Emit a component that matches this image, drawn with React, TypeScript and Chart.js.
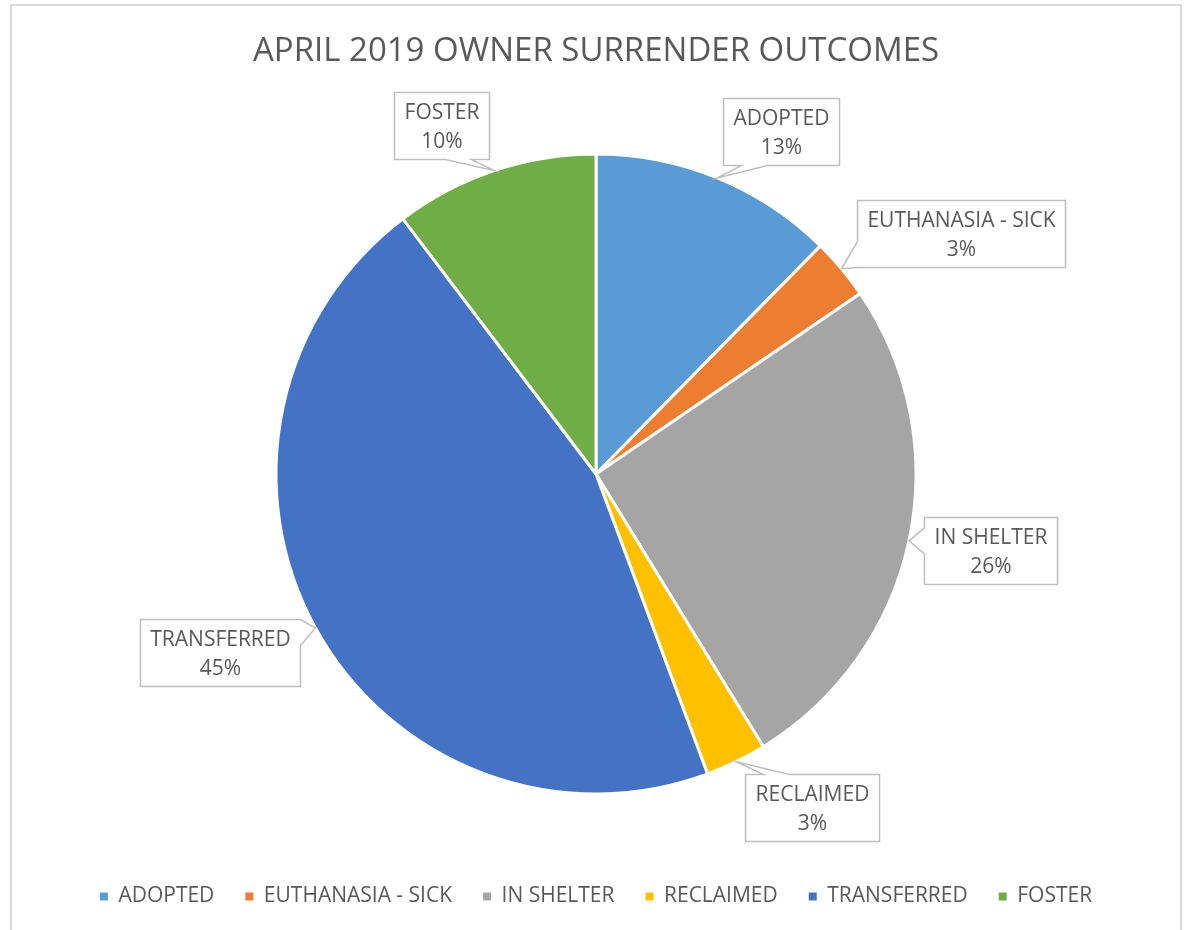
import React, { useEffect, useRef } from 'react';
import { Chart, registerables } from 'chart.js';

Chart.register(...registerables);

const TITLE = 'APRIL 2019 OWNER SURRENDER OUTCOMES';
const categories = ['ADOPTED', 'EUTHANASIA - SICK', 'IN SHELTER', 'RECLAIMED', 'TRANSFERRED', 'FOSTER'];
const counts = [12, 3, 25, 3, 44, 10];
const percentLabels = ['13%', '3%', '26%', '3%', '45%', '10%'];
const sliceColors = ['#5B9BD5', '#ED7D31', '#A5A5A5', '#FFC000', '#4472C4', '#70AD47'];
// callout box centre offsets relative to the slice's outer mid point (layout only)
const calloutOffsets = [
  [64, -46],
  [119, -35.5],
  [81.5, 9.5],
  [75.5, 45.5],
  [-95, 25],
  [-53, -45.5],
];

const W = 1186;
const H = 930;
const FONT = '"Open Sans", "Noto Sans", sans-serif';
const TEXT_COLOR = '#595959';
const LABEL_SIZE = 21;

const framePlugin = {
  id: 'frame',
  beforeDraw(chart: any) {
    const { ctx } = chart;
    ctx.save();
    ctx.fillStyle = '#ffffff';
    ctx.fillRect(0, 0, chart.width, chart.height);
    ctx.strokeStyle = '#d9d9d9';
    ctx.lineWidth = 2;
    ctx.beginPath();
    ctx.moveTo(11, chart.height + 5);
    ctx.lineTo(11, 5);
    ctx.lineTo(1181, 5);
    ctx.lineTo(1181, chart.height + 5);
    ctx.stroke();
    ctx.restore();
  },
};

const calloutPlugin = {
  id: 'callouts',
  afterDatasetsDraw(chart: any) {
    const meta = chart.getDatasetMeta(0);
    const ctx = chart.ctx;
    ctx.save();
    ctx.font = `${LABEL_SIZE}px ${FONT}`;
    const clamp = (v: number, lo: number, hi: number) => Math.max(lo, Math.min(hi, v));
    meta.data.forEach((arc: any, i: number) => {
      const p = arc.getProps(['x', 'y', 'startAngle', 'endAngle', 'outerRadius'], true);
      const mid = (p.startAngle + p.endAngle) / 2;
      const tipR = p.outerRadius;
      const tx = p.x + Math.cos(mid) * tipR;
      const ty = p.y + Math.sin(mid) * tipR;
      const lines = [categories[i], percentLabels[i]];
      const w = Math.round(Math.max(...lines.map((s) => ctx.measureText(s).width)) + 20);
      const h = 67;
      const cx = tx + calloutOffsets[i][0];
      const cy = ty + calloutOffsets[i][1];
      const l = Math.round(cx - w / 2) + 0.5;
      const r = l + w;
      const t = Math.round(cy - h / 2) + 0.5;
      const b = t + h;
      const dxOut = Math.max(l - tx, tx - r, 0);
      const dyOut = Math.max(t - ty, ty - b, 0);
      const half = 13;
      ctx.beginPath();
      ctx.moveTo(l, t);
      if (dyOut >= dxOut && ty < t) {
        const c = clamp(tx, l + half + 18, r - half - 18);
        ctx.lineTo(c - half, t);
        ctx.lineTo(tx, ty);
        ctx.lineTo(c + half, t);
      }
      ctx.lineTo(r, t);
      if (dxOut > dyOut && tx > r) {
        const c = clamp(ty, t + half, b - half);
        ctx.lineTo(r, c - half);
        ctx.lineTo(tx, ty);
        ctx.lineTo(r, c + half);
      }
      ctx.lineTo(r, b);
      if (dyOut >= dxOut && ty > b) {
        const c = clamp(tx, l + half + 18, r - half - 18);
        ctx.lineTo(c + half, b);
        ctx.lineTo(tx, ty);
        ctx.lineTo(c - half, b);
      }
      ctx.lineTo(l, b);
      if (dxOut > dyOut && tx < l) {
        const c = clamp(ty, t + half, b - half);
        ctx.lineTo(l, c + half);
        ctx.lineTo(tx, ty);
        ctx.lineTo(l, c - half);
      }
      ctx.closePath();
      ctx.fillStyle = '#ffffff';
      ctx.fill();
      ctx.strokeStyle = '#bfbfbf';
      ctx.lineWidth = 1.5;
      ctx.lineJoin = 'miter';
      ctx.stroke();
      ctx.fillStyle = TEXT_COLOR;
      ctx.textAlign = 'center';
      ctx.textBaseline = 'middle';
      ctx.fillText(lines[0], l + w / 2, t + 21);
      ctx.fillText(lines[1], l + w / 2, t + 49.5);
    });
    ctx.restore();
  },
};

export default function App() {
  const canvasRef = useRef<HTMLCanvasElement | null>(null);

  useEffect(() => {
    const canvas = canvasRef.current;
    if (!canvas) return;
    const chart = new Chart(canvas, {
      type: 'pie',
      data: {
        labels: categories,
        datasets: [
          {
            data: counts,
            backgroundColor: sliceColors,
            borderColor: '#ffffff',
            borderWidth: 3,
            radius: 320,
          } as any,
        ],
      },
      options: {
        responsive: false,
        maintainAspectRatio: false,
        animation: false,
        devicePixelRatio: 1,
        layout: { padding: { left: 6, right: 0, top: 0, bottom: 13 } },
        plugins: {
          title: {
            display: true,
            text: TITLE,
            color: TEXT_COLOR,
            font: { family: FONT, size: 33, weight: 'normal' as any },
            padding: { top: 31.7, bottom: 21.7 },
          },
          legend: {
            position: 'bottom',
            labels: {
              boxWidth: 8,
              boxHeight: 8,
              padding: 31,
              color: TEXT_COLOR,
              font: { family: FONT, size: LABEL_SIZE },
              generateLabels: () =>
                categories.map((c, i) => ({
                  text: c,
                  fillStyle: sliceColors[i],
                  strokeStyle: sliceColors[i],
                  lineWidth: 0,
                  hidden: false,
                  index: i,
                  fontColor: TEXT_COLOR,
                })),
            },
          },
          tooltip: { enabled: false },
        },
      },
      plugins: [framePlugin, calloutPlugin],
    });
    return () => chart.destroy();
  }, []);

  return (
    <div style={{ position: 'fixed', left: 0, top: 0, width: W, height: H, background: '#fff' }}>
      <canvas ref={canvasRef} width={W} height={H} style={{ display: 'block', width: W, height: H }} />
    </div>
  );
}
